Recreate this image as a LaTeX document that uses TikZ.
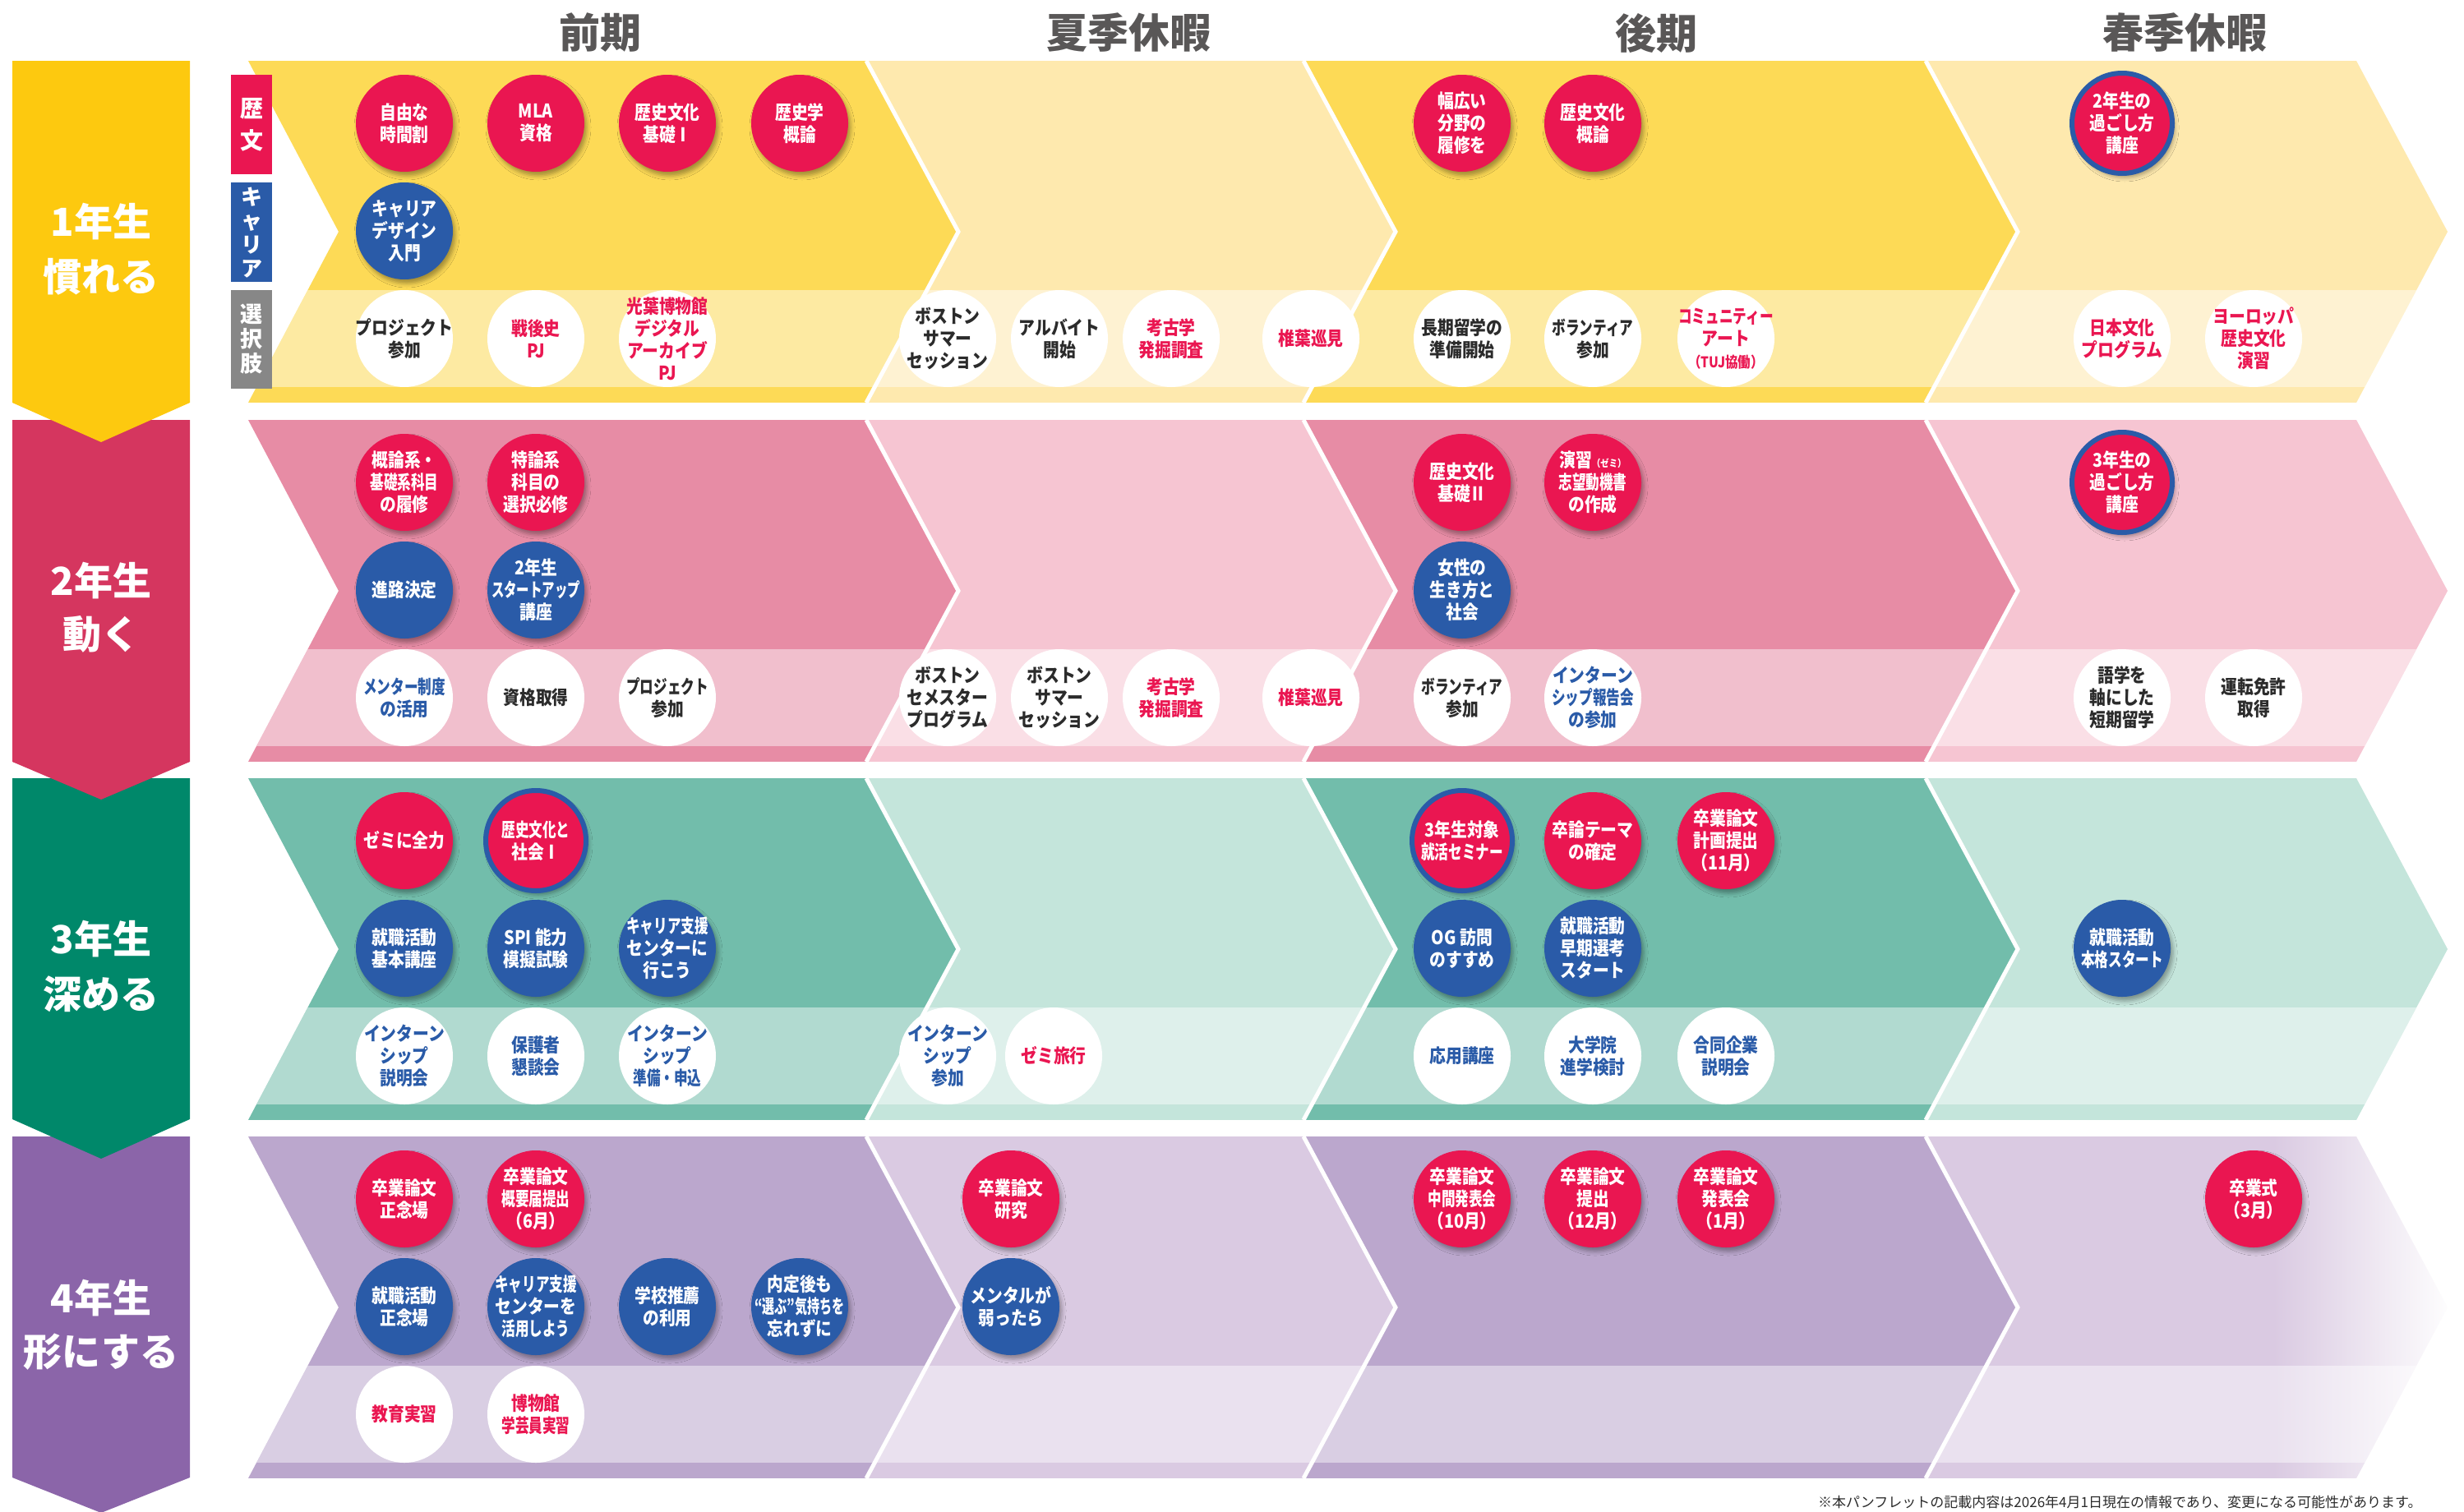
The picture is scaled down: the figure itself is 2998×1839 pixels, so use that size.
\documentclass[tikz,border=0pt]{standalone}
\usepackage{fontspec}
\setmainfont{Noto Sans CJK JP}
\newfontfamily\cfont[FakeStretch=0.86]{Noto Sans CJK JP}
\usetikzlibrary{shadows.blur,fadings}
\tikzfading[name=fadetoright, left color=transparent!100, right color=transparent!0]
\definecolor{cred}{HTML}{EA1651}
\definecolor{cblue}{HTML}{2A5BA8}
\definecolor{cdark}{HTML}{2B2B2B}
\definecolor{cgray}{HTML}{595757}
\definecolor{lgray}{HTML}{878787}
\definecolor{yA}{HTML}{FDC90F}\definecolor{yD}{HTML}{FDDA56}\definecolor{yL}{HTML}{FEE9AE}
\definecolor{pA}{HTML}{D5365F}\definecolor{pD}{HTML}{E78CA5}\definecolor{pL}{HTML}{F6C5D2}
\definecolor{gA}{HTML}{00886A}\definecolor{gD}{HTML}{72BDAB}\definecolor{gL}{HTML}{C4E5DB}
\definecolor{vA}{HTML}{8B65A9}\definecolor{vD}{HTML}{BBA7CD}\definecolor{vL}{HTML}{DACAE2}
\newcommand\sq[1]{\scalebox{0.84}[1]{#1}}
\newcommand\chevseg[5]{%
  \begin{scope}
    \clip (#1,\bandT) -- (#3,\bandT) -- (#4,\bandM) -- (#3,\bandB) -- (#1,\bandB) -- (#2,\bandM) -- cycle;
    \fill[#5] (#1,\bandT) rectangle (#4,\bandB);
    \fill[white,opacity=0.45] (#1,\stripT) rectangle (#4,\stripB);
  \end{scope}}
\newcommand\drawband[3]{%
  \pgfmathsetmacro\bandT{#1}%
  \pgfmathsetmacro\bandM{#1+208}%
  \pgfmathsetmacro\bandB{#1+416}%
  \pgfmathsetmacro\stripT{#1+279}%
  \pgfmathsetmacro\stripB{#1+397}%
  \chevseg{302}{412}{1054}{1166}{#2}%
  \chevseg{1054}{1166}{1586}{1698}{#3}%
  \chevseg{1586}{1698}{2343}{2455}{#2}%
  \chevseg{2343}{2455}{2867}{2978}{#3}%
  \foreach \xa/\xb in {1054/1166,1586/1698,2343/2455}
    \draw[white,line width=5pt,line join=miter] (\xa,\bandT) -- (\xb,\bandM) -- (\xa,\bandB);}
\tikzset{
  circ/.style={circle, minimum size=118pt, inner sep=-40pt, align=center,
    font=\cfont\bfseries\fontsize{23}{27}\selectfont},
  sh/.style={blur shadow={shadow xshift=3pt, shadow yshift=-5pt, shadow blur radius=5pt, shadow opacity=35}},
  redc/.style={circ, sh, fill=cred, text=white},
  bluec/.style={circ, sh, fill=cblue, text=white},
  redb/.style={circ, sh, fill=cred, text=white, draw=cblue, line width=6pt, minimum size=122pt},
  whc/.style={circ, fill=white, text=cdark},
  whr/.style={whc, text=cred},
  whb/.style={whc, text=cblue},
  hdr/.style={font=\bfseries\fontsize{50}{50}\selectfont, text=cgray},
  yrtxt/.style={font=\bfseries\fontsize{47}{47}\selectfont, text=white},
  tag/.style={align=center, text=white, font=\bfseries\fontsize{28}{30}\selectfont}
}
\begin{document}
\begin{tikzpicture}[x=1pt,y=-1pt]
\useasboundingbox (0,0) rectangle (2998,1839);
\fill[white] (0,0) rectangle (2998,1839);

% headers
\node[hdr] (h1) at (730,40) {前期};
\node[hdr] (h2) at (1373,40) {夏季休暇};
\node[hdr] (h3) at (2015,40) {後期};
\node[hdr] (h4) at (2658,40) {春季休暇};

% bands
\drawband{74}{yD}{yL}
\drawband{511}{pD}{pL}
\drawband{947}{gD}{gL}
\drawband{1383}{vD}{vL}
\fill[white, path fading=fadetoright] (2765,1380) rectangle (2985,1802);
\fill[white] (2984,1380) rectangle (2998,1802);

% year boxes (drawn bottom to top so the tips overlap)
\fill[vA] (15,1383) -- (231,1383) -- (231,1798) -- (123,1841) -- (15,1798) -- cycle;
\fill[gA] (15,947) -- (231,947) -- (231,1362) -- (123,1410) -- (15,1362) -- cycle;
\fill[pA] (15,511) -- (231,511) -- (231,927) -- (123,973) -- (15,927) -- cycle;
\fill[yA] (15,74) -- (231,74) -- (231,490) -- (123,538) -- (15,490) -- cycle;

\node[yrtxt] (y1a) at (123,270) {1年生};
\node[yrtxt] (y1b) at (123,337) {慣れる};
\node[yrtxt] (y2a) at (123,707) {2年生};
\node[yrtxt] (y2b) at (123,772) {動く};
\node[yrtxt] (y3a) at (123,1143) {3年生};
\node[yrtxt] (y3b) at (123,1210) {深める};
\node[yrtxt] (y4a) at (123,1580) {4年生};
\node[yrtxt] (y4b) at (123,1645) {形にする};

% category tags
\fill[cred] (281,91) rectangle (331,212);
\fill[cblue] (281,222) rectangle (331,343);
\fill[lgray] (281,353) rectangle (331,473);
\node[tag, font=\bfseries\fontsize{28}{39}\selectfont] (tr) at (306,152) {歴\\文};
\node[tag, font=\bfseries\fontsize{26}{29}\selectfont] (tc) at (306,283) {キ\\ャ\\リ\\ア};
\node[tag, font=\bfseries\fontsize{27}{30}\selectfont] (ts) at (306,413) {選\\択\\肢};

% ---- 1st year ----
\node[redc] (a11) at (492,150) {自由な\\時間割};
\node[redc] (a12) at (652,150) {MLA\\資格};
\node[redc] (a13) at (812,150) {歴史文化\\基礎Ⅰ};
\node[redc] (a14) at (973,150) {歴史学\\概論};
\node[redc] (a15) at (1779,150) {幅広い\\分野の\\履修を};
\node[redc] (a16) at (1938,150) {歴史文化\\概論};
\node[redb] (a17) at (2582,150) {2年生の\\過ごし方\\講座};
\node[bluec] (a21) at (492,281) {キャリア\\デザイン\\入門};
\node[whc] (a31) at (492,412) {プロジェクト\\参加};
\node[whr] (a32) at (652,412) {戦後史\\PJ};
\node[whr] (a33) at (812,412) {光葉博物館\\デジタル\\アーカイブ\\PJ};
\node[whc] (a34) at (1153,412) {ボストン\\サマー\\セッション};
\node[whc] (a35) at (1289,412) {アルバイト\\開始};
\node[whr] (a36) at (1425,412) {考古学\\発掘調査};
\node[whr] (a37) at (1595,412) {椎葉巡見};
\node[whc] (a38) at (1779,412) {長期留学の\\準備開始};
\node[whc] (a39) at (1938,412) {\sq{ボランティア}\\参加};
\node[whr] (a3a) at (2100,412) {\sq{コミュニティー}\\アート\\{\fontsize{18}{27}\selectfont （TUJ協働）}};
\node[whr] (a3b) at (2582,412) {日本文化\\プログラム};
\node[whr] (a3c) at (2742,412) {ヨーロッパ\\歴史文化\\演習};

% ---- 2nd year ----
\node[redc] (b11) at (492,587) {概論系・\\\sq{基礎系科目}\\の履修};
\node[redc] (b12) at (652,587) {特論系\\科目の\\選択必修};
\node[redc] (b13) at (1779,587) {歴史文化\\基礎Ⅱ};
\node[redc] (b14) at (1938,587) {演習{\fontsize{12}{27}\selectfont （ゼミ）}\\\sq{志望動機書}\\の作成};
\node[redb] (b15) at (2582,587) {3年生の\\過ごし方\\講座};
\node[bluec] (b21) at (492,718) {進路決定};
\node[bluec] (b22) at (652,718) {2年生\\\scalebox{0.78}[1]{スタートアップ}\\講座};
\node[bluec] (b23) at (1779,718) {女性の\\生き方と\\社会};
\node[whb] (b31) at (492,849) {\sq{メンター制度}\\の活用};
\node[whc] (b32) at (652,849) {資格取得};
\node[whc] (b33) at (812,849) {\sq{プロジェクト}\\参加};
\node[whc] (b34) at (1153,849) {ボストン\\セメスター\\プログラム};
\node[whc] (b35) at (1289,849) {ボストン\\サマー\\セッション};
\node[whr] (b36) at (1425,849) {考古学\\発掘調査};
\node[whr] (b37) at (1595,849) {椎葉巡見};
\node[whc] (b38) at (1779,849) {\sq{ボランティア}\\参加};
\node[whb] (b39) at (1938,849) {インターン\\\sq{シップ報告会}\\の参加};
\node[whc] (b3a) at (2582,849) {語学を\\軸にした\\短期留学};
\node[whc] (b3b) at (2742,849) {運転免許\\取得};

% ---- 3rd year ----
\node[redc] (c11) at (492,1023) {ゼミに全力};
\node[redb] (c12) at (652,1023) {\sq{歴史文化と}\\社会Ⅰ};
\node[redb] (c13) at (1779,1023) {3年生対象\\\sq{就活セミナー}};
\node[redc] (c14) at (1938,1023) {卒論テーマ\\の確定};
\node[redc] (c15) at (2100,1023) {卒業論文\\計画提出\\（11月）};
\node[bluec] (c21) at (492,1154) {就職活動\\基本講座};
\node[bluec] (c22) at (652,1154) {SPI 能力\\模擬試験};
\node[bluec] (c23) at (812,1154) {\sq{キャリア支援}\\センターに\\行こう};
\node[bluec] (c24) at (1779,1154) {OG 訪問\\のすすめ};
\node[bluec] (c25) at (1938,1154) {就職活動\\早期選考\\スタート};
\node[bluec] (c26) at (2582,1154) {就職活動\\\sq{本格スタート}};
\node[whb] (c31) at (492,1285) {インターン\\シップ\\説明会};
\node[whb] (c32) at (652,1285) {保護者\\懇談会};
\node[whb] (c33) at (812,1285) {インターン\\シップ\\\sq{準備・申込}};
\node[whb] (c34) at (1153,1285) {インターン\\シップ\\参加};
\node[whr] (c35) at (1282,1285) {ゼミ旅行};
\node[whb] (c36) at (1779,1285) {応用講座};
\node[whb] (c37) at (1938,1285) {大学院\\進学検討};
\node[whb] (c38) at (2100,1285) {合同企業\\説明会};

% ---- 4th year ----
\node[redc] (d11) at (492,1459) {卒業論文\\正念場};
\node[redc] (d12) at (652,1459) {卒業論文\\\sq{概要届提出}\\（6月）};
\node[redc] (d13) at (1230,1459) {卒業論文\\研究};
\node[redc] (d14) at (1779,1459) {卒業論文\\\sq{中間発表会}\\（10月）};
\node[redc] (d15) at (1938,1459) {卒業論文\\提出\\（12月）};
\node[redc] (d16) at (2100,1459) {卒業論文\\発表会\\（1月）};
\node[redc] (d17) at (2742,1459) {卒業式\\（3月）};
\node[bluec] (d21) at (492,1590) {就職活動\\正念場};
\node[bluec] (d22) at (652,1590) {\sq{キャリア支援}\\センターを\\\sq{活用しよう}};
\node[bluec] (d23) at (812,1590) {学校推薦\\の利用};
\node[bluec] (d24) at (973,1590) {内定後も\\\scalebox{0.76}[1]{“選ぶ”気持ちを}\\忘れずに};
\node[bluec] (d25) at (1230,1590) {メンタルが\\弱ったら};
\node[whr] (d31) at (492,1721) {教育実習};
\node[whr] (d32) at (652,1721) {博物館\\\sq{学芸員実習}};

% footnote
\node[anchor=east, text=cdark, font=\fontsize{17}{17}\selectfont] (note) at (2950,1828)
  {※本パンフレットの記載内容は2026年4月1日現在の情報であり、変更になる可能性があります。};
\end{tikzpicture}
\end{document}
